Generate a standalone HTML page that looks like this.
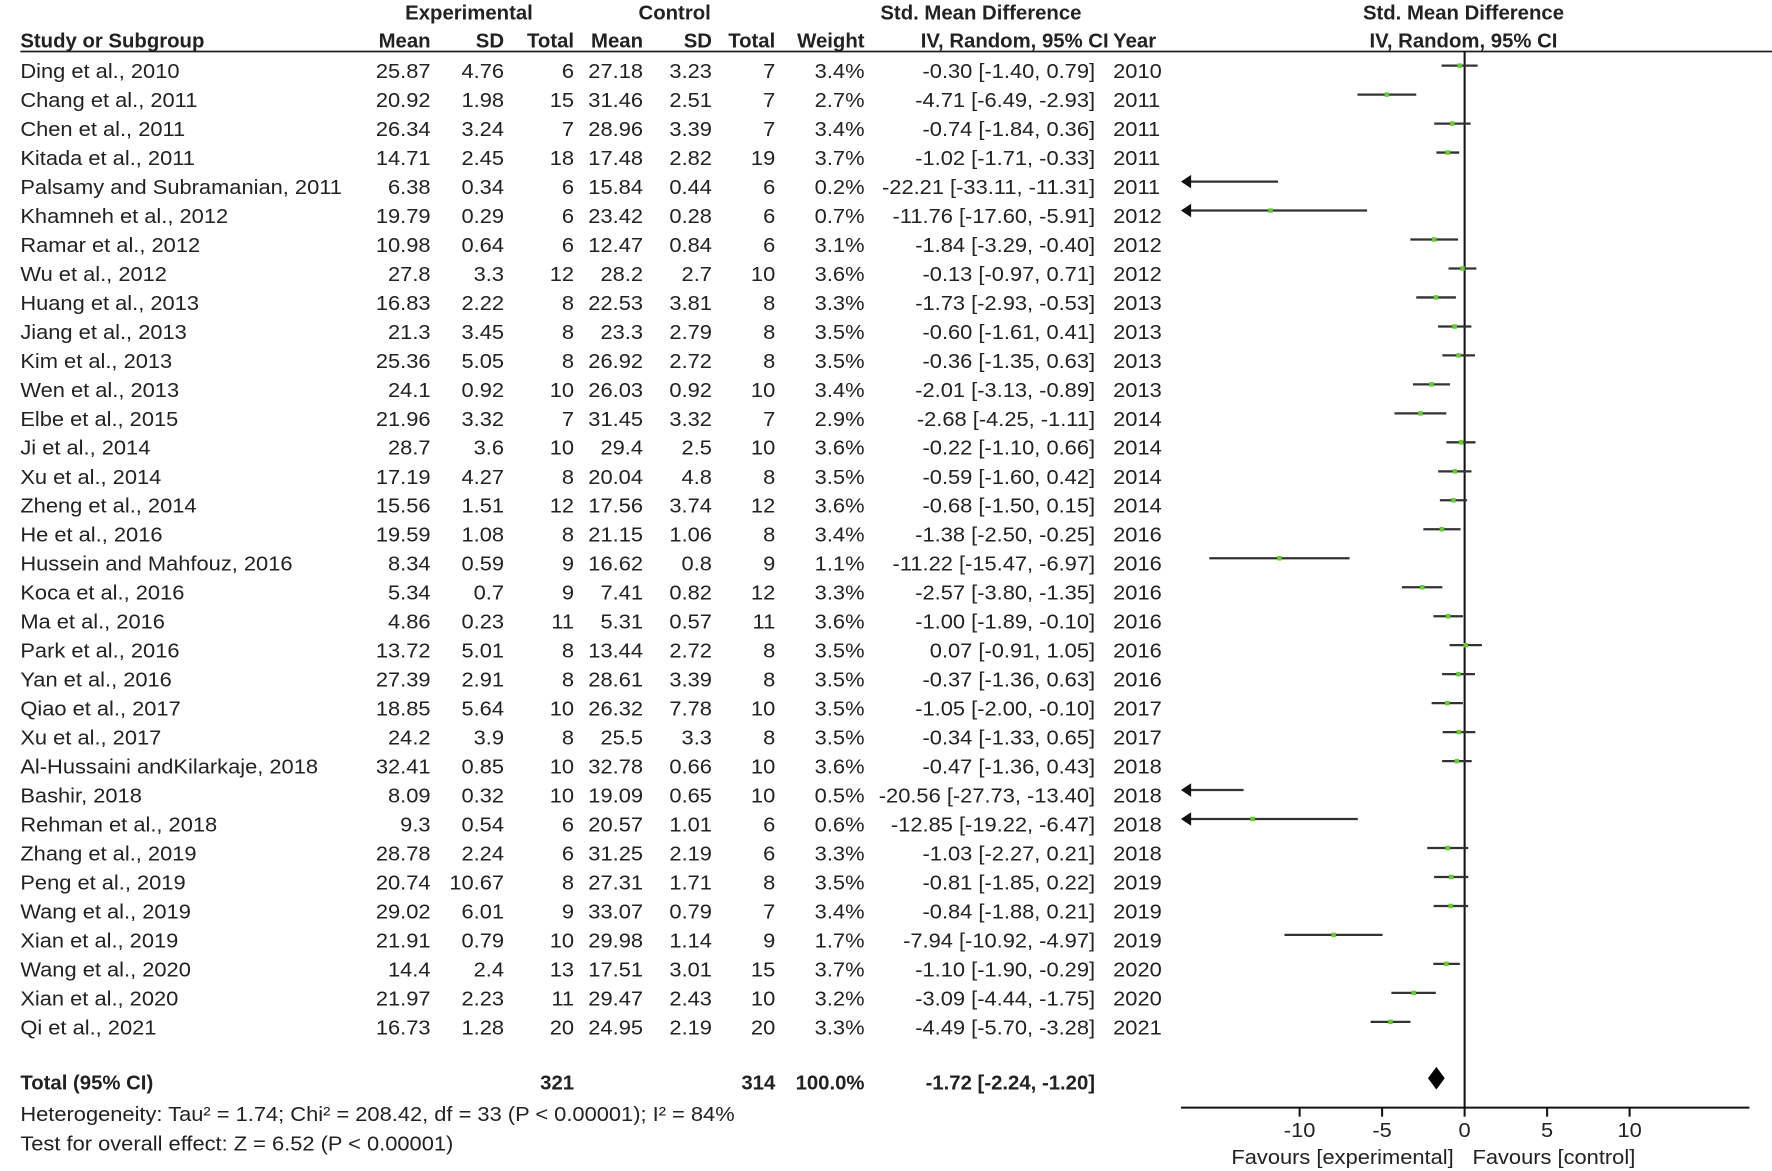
<!DOCTYPE html>
<html><head><meta charset="utf-8"><style>
html,body{margin:0;padding:0;background:#fff;}
svg{display:block;}
text{font-family:"Liberation Sans",Arial,sans-serif;font-size:18px;fill:#222;transform-box:fill-box;transform-origin:left center;transform:scaleX(1.075);}
.b{font-weight:bold;transform:none;}
.e{text-anchor:end;transform-origin:right center;}
.m{text-anchor:middle;transform-origin:center center;}
.ci{stroke:#333;stroke-width:2;}
.sq{fill:#66cc33;}
</style></head><body>
<svg width="1772" height="1171" viewBox="0 0 1568 1036" xmlns="http://www.w3.org/2000/svg">
<defs>
<symbol id="ah" overflow="visible"><polygon points="0,0 9,-6 9,6" fill="#111"/></symbol>
</defs>
<text class="b m" x="415" y="17">Experimental</text>
<text class="b m" x="597" y="17">Control</text>
<text class="b m" x="868" y="17">Std. Mean Difference</text>
<text class="b m" x="1295" y="17">Std. Mean Difference</text>
<text class="b" x="18" y="42">Study or Subgroup</text>
<text class="b e" x="381" y="42">Mean</text>
<text class="b e" x="446" y="42">SD</text>
<text class="b e" x="508" y="42">Total</text>
<text class="b e" x="569" y="42">Mean</text>
<text class="b e" x="630" y="42">SD</text>
<text class="b e" x="686" y="42">Total</text>
<text class="b e" x="765" y="42">Weight</text>
<text class="b e" x="981" y="42">IV, Random, 95% CI</text>
<text class="b" x="985" y="42">Year</text>
<text class="b m" x="1295" y="42">IV, Random, 95% CI</text>
<line x1="18" y1="45.5" x2="1568" y2="45.5" stroke="#222" stroke-width="1.6"/>
<line x1="1296" y1="45" x2="1296" y2="981" stroke="#111" stroke-width="1.8"/>
<line x1="1045" y1="980" x2="1548" y2="980" stroke="#111" stroke-width="1.8"/>
<g stroke="#111" stroke-width="1.8">
<line x1="1150" y1="980" x2="1150" y2="988"/><line x1="1223" y1="980" x2="1223" y2="988"/><line x1="1296" y1="980" x2="1296" y2="988"/><line x1="1369" y1="980" x2="1369" y2="988"/><line x1="1442" y1="980" x2="1442" y2="988"/>
</g>
<text class="m" x="1150" y="1006">-10</text><text class="m" x="1223" y="1006">-5</text><text class="m" x="1296" y="1006">0</text><text class="m" x="1369" y="1006">5</text><text class="m" x="1442" y="1006">10</text>
<text class="m" x="1188" y="1030">Favours [experimental]</text>
<text class="m" x="1375" y="1030">Favours [control]</text>
<polygon points="1263.6,954 1271,944 1278.4,954 1271,964" fill="#000"/>

<g transform="translate(0,69)"><text x="18">Ding et al., 2010</text><text class="e" x="381">25.87</text><text class="e" x="446">4.76</text><text class="e" x="508">6</text><text class="e" x="569">27.18</text><text class="e" x="630">3.23</text><text class="e" x="686">7</text><text class="e" x="765">3.4%</text><text class="e" x="969">-0.30 [-1.40, 0.79]</text><text x="985">2010</text><line class="ci" x1="1275.6" y1="-11" x2="1307.5" y2="-11"/><rect class="sq" x="1289.6" y="-13" width="4" height="4"/></g>
<g transform="translate(0,94.6)"><text x="18">Chang et al., 2011</text><text class="e" x="381">20.92</text><text class="e" x="446">1.98</text><text class="e" x="508">15</text><text class="e" x="569">31.46</text><text class="e" x="630">2.51</text><text class="e" x="686">7</text><text class="e" x="765">2.7%</text><text class="e" x="969">-4.71 [-6.49, -2.93]</text><text x="985">2011</text><line class="ci" x1="1201.2" y1="-11" x2="1253.2" y2="-11"/><rect class="sq" x="1225.2" y="-13" width="4" height="4"/></g>
<g transform="translate(0,120.3)"><text x="18">Chen et al., 2011</text><text class="e" x="381">26.34</text><text class="e" x="446">3.24</text><text class="e" x="508">7</text><text class="e" x="569">28.96</text><text class="e" x="630">3.39</text><text class="e" x="686">7</text><text class="e" x="765">3.4%</text><text class="e" x="969">-0.74 [-1.84, 0.36]</text><text x="985">2011</text><line class="ci" x1="1269.1" y1="-11" x2="1301.3" y2="-11"/><rect class="sq" x="1283.2" y="-13" width="4" height="4"/></g>
<g transform="translate(0,145.9)"><text x="18">Kitada et al., 2011</text><text class="e" x="381">14.71</text><text class="e" x="446">2.45</text><text class="e" x="508">18</text><text class="e" x="569">17.48</text><text class="e" x="630">2.82</text><text class="e" x="686">19</text><text class="e" x="765">3.7%</text><text class="e" x="969">-1.02 [-1.71, -0.33]</text><text x="985">2011</text><line class="ci" x1="1271.0" y1="-11" x2="1291.2" y2="-11"/><rect class="sq" x="1279.1" y="-13" width="4" height="4"/></g>
<g transform="translate(0,171.6)"><text x="18">Palsamy and Subramanian, 2011</text><text class="e" x="381">6.38</text><text class="e" x="446">0.34</text><text class="e" x="508">6</text><text class="e" x="569">15.84</text><text class="e" x="630">0.44</text><text class="e" x="686">6</text><text class="e" x="765">0.2%</text><text class="e" x="969">-22.21 [-33.11, -11.31]</text><text x="985">2011</text><line class="ci" x1="1047" y1="-11" x2="1130.9" y2="-11"/><use href="#ah" x="1045" y="-11"/></g>
<g transform="translate(0,197.2)"><text x="18">Khamneh et al., 2012</text><text class="e" x="381">19.79</text><text class="e" x="446">0.29</text><text class="e" x="508">6</text><text class="e" x="569">23.42</text><text class="e" x="630">0.28</text><text class="e" x="686">6</text><text class="e" x="765">0.7%</text><text class="e" x="969">-11.76 [-17.60, -5.91]</text><text x="985">2012</text><line class="ci" x1="1047" y1="-11" x2="1209.7" y2="-11"/><use href="#ah" x="1045" y="-11"/><rect class="sq" x="1122.3" y="-13" width="4" height="4"/></g>
<g transform="translate(0,222.8)"><text x="18">Ramar et al., 2012</text><text class="e" x="381">10.98</text><text class="e" x="446">0.64</text><text class="e" x="508">6</text><text class="e" x="569">12.47</text><text class="e" x="630">0.84</text><text class="e" x="686">6</text><text class="e" x="765">3.1%</text><text class="e" x="969">-1.84 [-3.29, -0.40]</text><text x="985">2012</text><line class="ci" x1="1248.0" y1="-11" x2="1290.2" y2="-11"/><rect class="sq" x="1267.1" y="-13" width="4" height="4"/></g>
<g transform="translate(0,248.5)"><text x="18">Wu et al., 2012</text><text class="e" x="381">27.8</text><text class="e" x="446">3.3</text><text class="e" x="508">12</text><text class="e" x="569">28.2</text><text class="e" x="630">2.7</text><text class="e" x="686">10</text><text class="e" x="765">3.6%</text><text class="e" x="969">-0.13 [-0.97, 0.71]</text><text x="985">2012</text><line class="ci" x1="1281.8" y1="-11" x2="1306.4" y2="-11"/><rect class="sq" x="1292.1" y="-13" width="4" height="4"/></g>
<g transform="translate(0,274.1)"><text x="18">Huang et al., 2013</text><text class="e" x="381">16.83</text><text class="e" x="446">2.22</text><text class="e" x="508">8</text><text class="e" x="569">22.53</text><text class="e" x="630">3.81</text><text class="e" x="686">8</text><text class="e" x="765">3.3%</text><text class="e" x="969">-1.73 [-2.93, -0.53]</text><text x="985">2013</text><line class="ci" x1="1253.2" y1="-11" x2="1288.3" y2="-11"/><rect class="sq" x="1268.7" y="-13" width="4" height="4"/></g>
<g transform="translate(0,299.8)"><text x="18">Jiang et al., 2013</text><text class="e" x="381">21.3</text><text class="e" x="446">3.45</text><text class="e" x="508">8</text><text class="e" x="569">23.3</text><text class="e" x="630">2.79</text><text class="e" x="686">8</text><text class="e" x="765">3.5%</text><text class="e" x="969">-0.60 [-1.61, 0.41]</text><text x="985">2013</text><line class="ci" x1="1272.5" y1="-11" x2="1302.0" y2="-11"/><rect class="sq" x="1285.2" y="-13" width="4" height="4"/></g>
<g transform="translate(0,325.4)"><text x="18">Kim et al., 2013</text><text class="e" x="381">25.36</text><text class="e" x="446">5.05</text><text class="e" x="508">8</text><text class="e" x="569">26.92</text><text class="e" x="630">2.72</text><text class="e" x="686">8</text><text class="e" x="765">3.5%</text><text class="e" x="969">-0.36 [-1.35, 0.63]</text><text x="985">2013</text><line class="ci" x1="1276.3" y1="-11" x2="1305.2" y2="-11"/><rect class="sq" x="1288.7" y="-13" width="4" height="4"/></g>
<g transform="translate(0,351.0)"><text x="18">Wen et al., 2013</text><text class="e" x="381">24.1</text><text class="e" x="446">0.92</text><text class="e" x="508">10</text><text class="e" x="569">26.03</text><text class="e" x="630">0.92</text><text class="e" x="686">10</text><text class="e" x="765">3.4%</text><text class="e" x="969">-2.01 [-3.13, -0.89]</text><text x="985">2013</text><line class="ci" x1="1250.3" y1="-11" x2="1283.0" y2="-11"/><rect class="sq" x="1264.7" y="-13" width="4" height="4"/></g>
<g transform="translate(0,376.7)"><text x="18">Elbe et al., 2015</text><text class="e" x="381">21.96</text><text class="e" x="446">3.32</text><text class="e" x="508">7</text><text class="e" x="569">31.45</text><text class="e" x="630">3.32</text><text class="e" x="686">7</text><text class="e" x="765">2.9%</text><text class="e" x="969">-2.68 [-4.25, -1.11]</text><text x="985">2014</text><line class="ci" x1="1233.9" y1="-11" x2="1279.8" y2="-11"/><rect class="sq" x="1254.9" y="-13" width="4" height="4"/></g>
<g transform="translate(0,402.3)"><text x="18">Ji et al., 2014</text><text class="e" x="381">28.7</text><text class="e" x="446">3.6</text><text class="e" x="508">10</text><text class="e" x="569">29.4</text><text class="e" x="630">2.5</text><text class="e" x="686">10</text><text class="e" x="765">3.6%</text><text class="e" x="969">-0.22 [-1.10, 0.66]</text><text x="985">2014</text><line class="ci" x1="1279.9" y1="-11" x2="1305.6" y2="-11"/><rect class="sq" x="1290.8" y="-13" width="4" height="4"/></g>
<g transform="translate(0,428.0)"><text x="18">Xu et al., 2014</text><text class="e" x="381">17.19</text><text class="e" x="446">4.27</text><text class="e" x="508">8</text><text class="e" x="569">20.04</text><text class="e" x="630">4.8</text><text class="e" x="686">8</text><text class="e" x="765">3.5%</text><text class="e" x="969">-0.59 [-1.60, 0.42]</text><text x="985">2014</text><line class="ci" x1="1272.6" y1="-11" x2="1302.1" y2="-11"/><rect class="sq" x="1285.4" y="-13" width="4" height="4"/></g>
<g transform="translate(0,453.6)"><text x="18">Zheng et al., 2014</text><text class="e" x="381">15.56</text><text class="e" x="446">1.51</text><text class="e" x="508">12</text><text class="e" x="569">17.56</text><text class="e" x="630">3.74</text><text class="e" x="686">12</text><text class="e" x="765">3.6%</text><text class="e" x="969">-0.68 [-1.50, 0.15]</text><text x="985">2014</text><line class="ci" x1="1274.1" y1="-11" x2="1298.2" y2="-11"/><rect class="sq" x="1284.1" y="-13" width="4" height="4"/></g>
<g transform="translate(0,479.2)"><text x="18">He et al., 2016</text><text class="e" x="381">19.59</text><text class="e" x="446">1.08</text><text class="e" x="508">8</text><text class="e" x="569">21.15</text><text class="e" x="630">1.06</text><text class="e" x="686">8</text><text class="e" x="765">3.4%</text><text class="e" x="969">-1.38 [-2.50, -0.25]</text><text x="985">2016</text><line class="ci" x1="1259.5" y1="-11" x2="1292.4" y2="-11"/><rect class="sq" x="1273.9" y="-13" width="4" height="4"/></g>
<g transform="translate(0,504.9)"><text x="18">Hussein and Mahfouz, 2016</text><text class="e" x="381">8.34</text><text class="e" x="446">0.59</text><text class="e" x="508">9</text><text class="e" x="569">16.62</text><text class="e" x="630">0.8</text><text class="e" x="686">9</text><text class="e" x="765">1.1%</text><text class="e" x="969">-11.22 [-15.47, -6.97]</text><text x="985">2016</text><line class="ci" x1="1070.1" y1="-11" x2="1194.2" y2="-11"/><rect class="sq" x="1130.2" y="-13" width="4" height="4"/></g>
<g transform="translate(0,530.5)"><text x="18">Koca et al., 2016</text><text class="e" x="381">5.34</text><text class="e" x="446">0.7</text><text class="e" x="508">9</text><text class="e" x="569">7.41</text><text class="e" x="630">0.82</text><text class="e" x="686">12</text><text class="e" x="765">3.3%</text><text class="e" x="969">-2.57 [-3.80, -1.35]</text><text x="985">2016</text><line class="ci" x1="1240.5" y1="-11" x2="1276.3" y2="-11"/><rect class="sq" x="1256.5" y="-13" width="4" height="4"/></g>
<g transform="translate(0,556.2)"><text x="18">Ma et al., 2016</text><text class="e" x="381">4.86</text><text class="e" x="446">0.23</text><text class="e" x="508">11</text><text class="e" x="569">5.31</text><text class="e" x="630">0.57</text><text class="e" x="686">11</text><text class="e" x="765">3.6%</text><text class="e" x="969">-1.00 [-1.89, -0.10]</text><text x="985">2016</text><line class="ci" x1="1268.4" y1="-11" x2="1294.5" y2="-11"/><rect class="sq" x="1279.4" y="-13" width="4" height="4"/></g>
<g transform="translate(0,581.8)"><text x="18">Park et al., 2016</text><text class="e" x="381">13.72</text><text class="e" x="446">5.01</text><text class="e" x="508">8</text><text class="e" x="569">13.44</text><text class="e" x="630">2.72</text><text class="e" x="686">8</text><text class="e" x="765">3.5%</text><text class="e" x="969">0.07 [-0.91, 1.05]</text><text x="985">2016</text><line class="ci" x1="1282.7" y1="-11" x2="1311.3" y2="-11"/><rect class="sq" x="1295.0" y="-13" width="4" height="4"/></g>
<g transform="translate(0,607.4)"><text x="18">Yan et al., 2016</text><text class="e" x="381">27.39</text><text class="e" x="446">2.91</text><text class="e" x="508">8</text><text class="e" x="569">28.61</text><text class="e" x="630">3.39</text><text class="e" x="686">8</text><text class="e" x="765">3.5%</text><text class="e" x="969">-0.37 [-1.36, 0.63]</text><text x="985">2016</text><line class="ci" x1="1276.1" y1="-11" x2="1305.2" y2="-11"/><rect class="sq" x="1288.6" y="-13" width="4" height="4"/></g>
<g transform="translate(0,633.1)"><text x="18">Qiao et al., 2017</text><text class="e" x="381">18.85</text><text class="e" x="446">5.64</text><text class="e" x="508">10</text><text class="e" x="569">26.32</text><text class="e" x="630">7.78</text><text class="e" x="686">10</text><text class="e" x="765">3.5%</text><text class="e" x="969">-1.05 [-2.00, -0.10]</text><text x="985">2017</text><line class="ci" x1="1266.8" y1="-11" x2="1294.5" y2="-11"/><rect class="sq" x="1278.7" y="-13" width="4" height="4"/></g>
<g transform="translate(0,658.7)"><text x="18">Xu et al., 2017</text><text class="e" x="381">24.2</text><text class="e" x="446">3.9</text><text class="e" x="508">8</text><text class="e" x="569">25.5</text><text class="e" x="630">3.3</text><text class="e" x="686">8</text><text class="e" x="765">3.5%</text><text class="e" x="969">-0.34 [-1.33, 0.65]</text><text x="985">2017</text><line class="ci" x1="1276.6" y1="-11" x2="1305.5" y2="-11"/><rect class="sq" x="1289.0" y="-13" width="4" height="4"/></g>
<g transform="translate(0,684.4)"><text x="18">Al-Hussaini andKilarkaje, 2018</text><text class="e" x="381">32.41</text><text class="e" x="446">0.85</text><text class="e" x="508">10</text><text class="e" x="569">32.78</text><text class="e" x="630">0.66</text><text class="e" x="686">10</text><text class="e" x="765">3.6%</text><text class="e" x="969">-0.47 [-1.36, 0.43]</text><text x="985">2018</text><line class="ci" x1="1276.1" y1="-11" x2="1302.3" y2="-11"/><rect class="sq" x="1287.1" y="-13" width="4" height="4"/></g>
<g transform="translate(0,710.0)"><text x="18">Bashir, 2018</text><text class="e" x="381">8.09</text><text class="e" x="446">0.32</text><text class="e" x="508">10</text><text class="e" x="569">19.09</text><text class="e" x="630">0.65</text><text class="e" x="686">10</text><text class="e" x="765">0.5%</text><text class="e" x="969">-20.56 [-27.73, -13.40]</text><text x="985">2018</text><line class="ci" x1="1047" y1="-11" x2="1100.4" y2="-11"/><use href="#ah" x="1045" y="-11"/></g>
<g transform="translate(0,735.6)"><text x="18">Rehman et al., 2018</text><text class="e" x="381">9.3</text><text class="e" x="446">0.54</text><text class="e" x="508">6</text><text class="e" x="569">20.57</text><text class="e" x="630">1.01</text><text class="e" x="686">6</text><text class="e" x="765">0.6%</text><text class="e" x="969">-12.85 [-19.22, -6.47]</text><text x="985">2018</text><line class="ci" x1="1047" y1="-11" x2="1201.5" y2="-11"/><use href="#ah" x="1045" y="-11"/><rect class="sq" x="1106.4" y="-13" width="4" height="4"/></g>
<g transform="translate(0,761.3)"><text x="18">Zhang et al., 2019</text><text class="e" x="381">28.78</text><text class="e" x="446">2.24</text><text class="e" x="508">6</text><text class="e" x="569">31.25</text><text class="e" x="630">2.19</text><text class="e" x="686">6</text><text class="e" x="765">3.3%</text><text class="e" x="969">-1.03 [-2.27, 0.21]</text><text x="985">2018</text><line class="ci" x1="1262.9" y1="-11" x2="1299.1" y2="-11"/><rect class="sq" x="1279.0" y="-13" width="4" height="4"/></g>
<g transform="translate(0,786.9)"><text x="18">Peng et al., 2019</text><text class="e" x="381">20.74</text><text class="e" x="446">10.67</text><text class="e" x="508">8</text><text class="e" x="569">27.31</text><text class="e" x="630">1.71</text><text class="e" x="686">8</text><text class="e" x="765">3.5%</text><text class="e" x="969">-0.81 [-1.85, 0.22]</text><text x="985">2019</text><line class="ci" x1="1269.0" y1="-11" x2="1299.2" y2="-11"/><rect class="sq" x="1282.2" y="-13" width="4" height="4"/></g>
<g transform="translate(0,812.6)"><text x="18">Wang et al., 2019</text><text class="e" x="381">29.02</text><text class="e" x="446">6.01</text><text class="e" x="508">9</text><text class="e" x="569">33.07</text><text class="e" x="630">0.79</text><text class="e" x="686">7</text><text class="e" x="765">3.4%</text><text class="e" x="969">-0.84 [-1.88, 0.21]</text><text x="985">2019</text><line class="ci" x1="1268.6" y1="-11" x2="1299.1" y2="-11"/><rect class="sq" x="1281.7" y="-13" width="4" height="4"/></g>
<g transform="translate(0,838.2)"><text x="18">Xian et al., 2019</text><text class="e" x="381">21.91</text><text class="e" x="446">0.79</text><text class="e" x="508">10</text><text class="e" x="569">29.98</text><text class="e" x="630">1.14</text><text class="e" x="686">9</text><text class="e" x="765">1.7%</text><text class="e" x="969">-7.94 [-10.92, -4.97]</text><text x="985">2019</text><line class="ci" x1="1136.6" y1="-11" x2="1223.4" y2="-11"/><rect class="sq" x="1178.1" y="-13" width="4" height="4"/></g>
<g transform="translate(0,863.8)"><text x="18">Wang et al., 2020</text><text class="e" x="381">14.4</text><text class="e" x="446">2.4</text><text class="e" x="508">13</text><text class="e" x="569">17.51</text><text class="e" x="630">3.01</text><text class="e" x="686">15</text><text class="e" x="765">3.7%</text><text class="e" x="969">-1.10 [-1.90, -0.29]</text><text x="985">2020</text><line class="ci" x1="1268.3" y1="-11" x2="1291.8" y2="-11"/><rect class="sq" x="1277.9" y="-13" width="4" height="4"/></g>
<g transform="translate(0,889.5)"><text x="18">Xian et al., 2020</text><text class="e" x="381">21.97</text><text class="e" x="446">2.23</text><text class="e" x="508">11</text><text class="e" x="569">29.47</text><text class="e" x="630">2.43</text><text class="e" x="686">10</text><text class="e" x="765">3.2%</text><text class="e" x="969">-3.09 [-4.44, -1.75]</text><text x="985">2020</text><line class="ci" x1="1231.2" y1="-11" x2="1270.5" y2="-11"/><rect class="sq" x="1248.9" y="-13" width="4" height="4"/></g>
<g transform="translate(0,915.1)"><text x="18">Qi et al., 2021</text><text class="e" x="381">16.73</text><text class="e" x="446">1.28</text><text class="e" x="508">20</text><text class="e" x="569">24.95</text><text class="e" x="630">2.19</text><text class="e" x="686">20</text><text class="e" x="765">3.3%</text><text class="e" x="969">-4.49 [-5.70, -3.28]</text><text x="985">2021</text><line class="ci" x1="1212.8" y1="-11" x2="1248.1" y2="-11"/><rect class="sq" x="1228.4" y="-13" width="4" height="4"/></g>

<g transform="translate(0,964)"><text class="b" x="18">Total (95% CI)</text><text class="b e" x="508">321</text><text class="b e" x="686">314</text><text class="b e" x="765">100.0%</text><text class="b e" x="969">-1.72 [-2.24, -1.20]</text></g>
<text x="18" y="992">Heterogeneity: Tau² = 1.74; Chi² = 208.42, df = 33 (P &lt; 0.00001); I² = 84%</text>
<text x="18" y="1018">Test for overall effect: Z = 6.52 (P &lt; 0.00001)</text>
</svg>
</body></html>
